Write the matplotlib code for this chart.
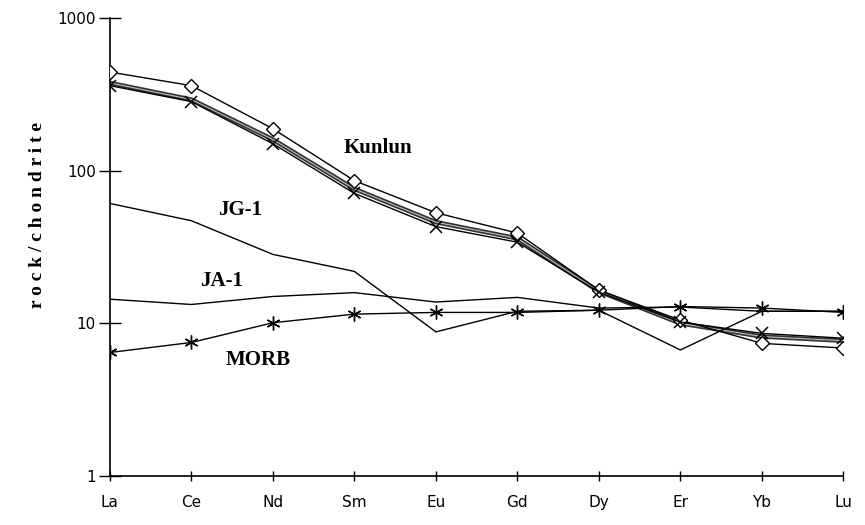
import numpy as np
import matplotlib
matplotlib.use("Agg")
import matplotlib.pyplot as plt

# REE pattern, normalised to chondrite
elements = ["La", "Ce", "Nd", "Sm", "Eu", "Gd", "Dy", "Er", "Yb", "Lu"]
kunlun_a = [442, 360, 188, 86, 53, 39, 16.5, 10.5, 7.4, 6.9]
kunlun_b = [360, 283, 150, 71, 43, 34, 16.0, 10.2, 8.6, 8.0]
kunlun_c = [375, 292, 160, 76, 46, 36, 16.2, 10.0, 8.2, 7.7]
jg1 = [61, 47, 28.3, 21.9, 8.8, 12.0, 12.2, 6.7, 12.0, 12.0]
ja1 = [14.4, 13.3, 15.0, 15.9, 13.8, 14.8, 12.6, 12.8, 12.0, 12.0]
morb = [6.45, 7.5, 10.1, 11.5, 11.8, 11.8, 12.2, 12.9, 12.6, 11.8]

x = np.arange(len(elements))

fig = plt.figure(figsize=(8.65, 5.25), dpi=100)
ax = fig.add_axes([0.127, 0.093, 0.848, 0.873])

ax.plot(x, kunlun_c, color="#333333", lw=3.2, zorder=2)
ax.plot(x, kunlun_c, color="#bbbbbb", lw=0.8, zorder=2)
ax.plot(x, kunlun_a, color="black", lw=1.0, marker="D", ms=7,
        mfc="white", mec="black", mew=1.0, zorder=3)
ax.plot(x, kunlun_b, color="black", lw=1.0, marker="x", ms=9,
        mew=1.1, zorder=3)
ax.plot(x, jg1, color="black", lw=1.0)
ax.plot(x, ja1, color="black", lw=1.0)
ax.plot(x, morb, color="black", lw=1.0, marker=(6, 2, 0), ms=10, mew=1.0)

ax.set_yscale("log")
ax.set_ylim(1, 1000)
ax.set_xlim(0, 9)
ax.set_xticks(x)
ax.set_xticklabels(elements)
ax.set_yticks([1, 10, 100, 1000])
ax.set_yticklabels(["1", "10", "100", "1000"])
ax.yaxis.set_minor_locator(matplotlib.ticker.NullLocator())

for s in ["top", "right"]:
    ax.spines[s].set_visible(False)
ax.spines["left"].set_linewidth(1.2)
ax.spines["bottom"].set_linewidth(1.2)
ax.tick_params(axis="y", direction="inout", length=16, width=1, labelsize=11, pad=2)
ax.tick_params(axis="x", direction="inout", length=7, width=1, labelsize=11, pad=10)

serif = dict(family="Liberation Serif", fontweight="bold", fontsize=15)
ax.text(3.29, 140, "Kunlun", ha="center", va="center", **serif)
ax.text(1.6, 55, "JG-1", ha="center", va="center", **serif)
ax.text(1.37, 18.9, "JA-1", ha="center", va="center", **serif)
ax.text(1.82, 5.75, "MORB", ha="center", va="center", **serif)

fig.text(38 / 865, 1 - 215 / 525, " ".join("rock/chondrite"), rotation=90,
         ha="center", va="center", family="Liberation Serif",
         fontweight="bold", fontsize=14)

fig.savefig("out.png", dpi=100)
